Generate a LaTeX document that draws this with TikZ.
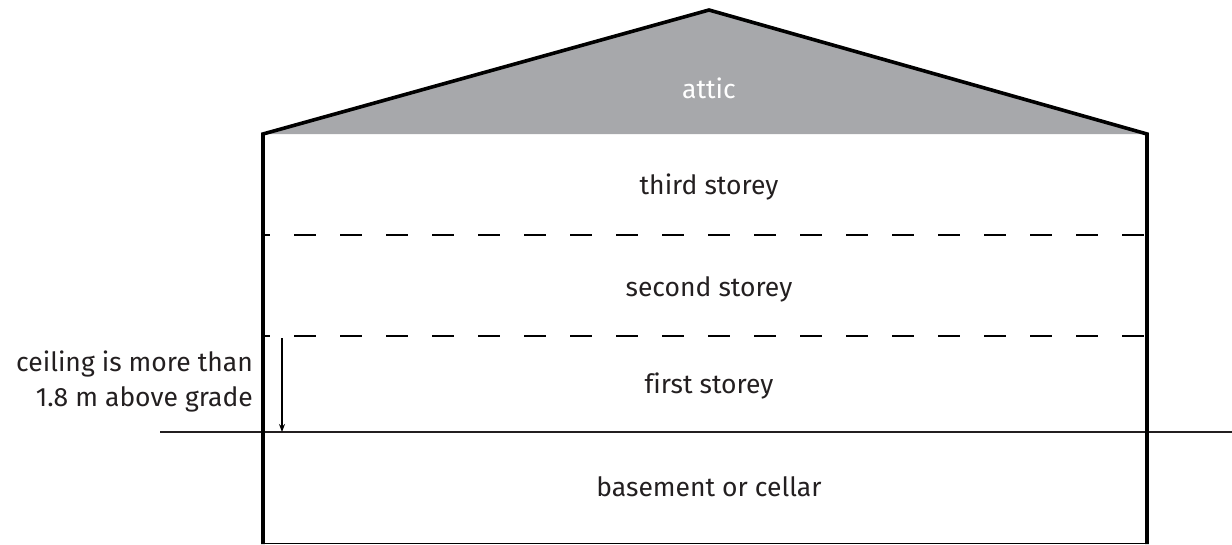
\documentclass[tikz,border=0pt]{standalone}
\usepackage{fontspec}
\setmainfont{Fira Sans}[Ligatures=NoCommon]
\usetikzlibrary{arrows.meta, positioning}
\definecolor{AtticGrey}{HTML}{A7A8AB}
\definecolor{TextDark}{HTML}{231F20}

\tikzset{
  floorlabel/.style={font=\fontsize{26.5}{35}\selectfont, text=TextDark},
  floorline/.style={line width=1.2pt, dash pattern=on 22pt off 24pt, dash phase=15pt},
  wall/.style={line width=3.6pt, line join=miter},
}

\begin{document}
\begin{tikzpicture}[x=1pt, y=-1pt]
    \useasboundingbox (0,0) rectangle (1232,544);
    % attic fill
    \fill[AtticGrey] (263,134) -- (709,10) -- (1147,134) -- cycle;
    % floors
    \draw[floorline] (263,235) -- (1147,235);
    \draw[floorline] (263,336) -- (1147,336);
    \draw[line width=0.8pt] (263,543) -- (1147,543);
    % grade
    \draw[line width=1.3pt, TextDark] (160,432) -- (1232,432);
    % roof and walls
    \draw[wall] (263,544) -- (263,134) -- (709,10) -- (1147,134) -- (1147,544);
    % labels
    \node[floorlabel, text=white] (attic) at (709,88) {attic};
    \node[floorlabel] (third) at (709,187) {third storey};
    \node[floorlabel] (second) at (709,289) {second storey};
    \node[floorlabel] (first) at (709,386) {first storey};
    \node[floorlabel] (basement) at (709,487) {basement or cellar};
    \node[floorlabel, anchor=east, align=right, inner sep=0pt] (ceiling) at (253,381)
        {ceiling is more than\\1.8 m above grade};
    % ceiling arrow
    \coordinate (ceilTop) at (282,338);
    \coordinate (gradePt) at (282,432);
    \draw[-{Stealth[length=8pt, width=6pt]}, line width=1.4pt] (ceilTop) -- (gradePt);
\end{tikzpicture}
\end{document}
